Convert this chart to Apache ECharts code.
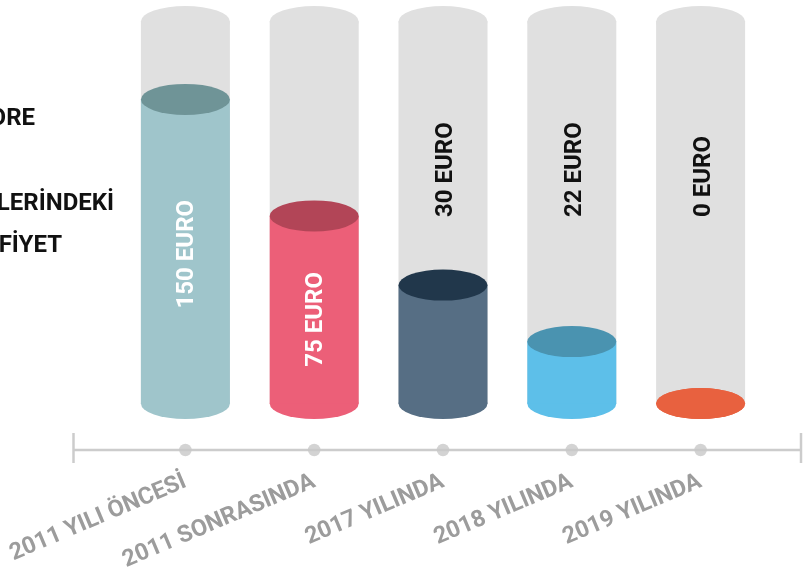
<!DOCTYPE html>
<html>
<head>
<meta charset="utf-8">
<script src="https://cdn.jsdelivr.net/npm/echarts@6/dist/echarts.min.js"></script>
<style>
  html, body { margin: 0; padding: 0; background: #ffffff; }
  #chart { width: 806px; height: 576px; }
</style>
</head>
<body>
<div id="chart"></div>
<script>
// ---- data ----
const categories = ['2011 YILI ÖNCESİ', '2011 SONRASINDA', '2017 YILINDA', '2018 YILINDA', '2019 YILINDA'];
const priceLabels = ['150 EURO', '75 EURO', '30 EURO', '22 EURO', '0 EURO'];
// fill level of each tube, in % of the tube height (as drawn in the infographic)
const fillLevel = [79.6, 49.1, 31.0, 16.2, 0];
const tubeLevel = [100, 100, 100, 100, 100];
const labelInBody = [true, true, false, false, false];
const bodyColors = ['#9fc5cb', '#ec5f78', '#566e84', '#5dbfe9', '#e8613f'];
const capColors = ['#6f9497', '#b24557', '#21374b', '#4a93b0', '#e8613f'];
const titleLines = ['ORE', 'LERİNDEKİ', 'FİYET'];

const FONT = 'Roboto, "Noto Sans", sans-serif';
const BW = 89, EH = 31;

const chart = echarts.init(document.getElementById('chart'), null, { renderer: 'canvas' });

// rotated labels: offset is in the label's rotated frame -> [along text (up), across text (right)]
const labelBase = {
  show: true, position: 'inside', rotate: 90, align: 'left', verticalAlign: 'middle',
  fontFamily: FONT, fontWeight: 'bold', fontSize: 24
};

const option = {
  animation: false,
  backgroundColor: '#ffffff',
  grid: [
    { left: 121, right: 41, top: 21.5, bottom: 172.5 },
    { left: 121, right: 41, top: 430, height: 20 }
  ],
  xAxis: [
    { type: 'category', gridIndex: 0, data: categories, show: false },
    {
      type: 'category', gridIndex: 1, data: categories,
      axisLine: { show: false }, axisTick: { show: false },
      axisLabel: {
        interval: 0, rotate: 23, margin: 31, color: '#9c9c9c',
        fontFamily: FONT, fontWeight: 'bold', fontSize: 23.5
      }
    }
  ],
  yAxis: [
    { type: 'value', gridIndex: 0, min: 0, max: 100, show: false },
    { type: 'value', gridIndex: 1, min: 0, max: 1, show: false }
  ],
  graphic: [
    { type: 'line', z: 0, shape: { x1: 73, y1: 450, x2: 801, y2: 450 }, style: { stroke: '#cccccc', lineWidth: 2.5 } },
    { type: 'line', z: 0, shape: { x1: 73.5, y1: 433, x2: 73.5, y2: 463 }, style: { stroke: '#cccccc', lineWidth: 2.5 } },
    { type: 'line', z: 0, shape: { x1: 801, y1: 433, x2: 801, y2: 463 }, style: { stroke: '#cccccc', lineWidth: 2.5 } },
    { type: 'text', style: { text: titleLines[0], x: 35, y: 118.5, align: 'right', verticalAlign: 'middle', fill: '#111111', font: 'bold 24px ' + FONT } },
    { type: 'text', style: { text: titleLines[1], x: 114, y: 204, align: 'right', verticalAlign: 'middle', fill: '#111111', font: 'bold 24px ' + FONT } },
    { type: 'text', style: { text: titleLines[2], x: 62, y: 246, align: 'right', verticalAlign: 'middle', fill: '#111111', font: 'bold 24px ' + FONT } }
  ],
  series: [
    // empty tube body
    {
      type: 'bar', xAxisIndex: 0, yAxisIndex: 0, barWidth: BW, barGap: '-100%', z: 1,
      itemStyle: { color: '#e0e0e0' },
      data: tubeLevel.map((v, i) => ({
        value: v,
        label: Object.assign({}, labelBase, { show: !labelInBody[i], color: '#111111', offset: [-4.5, 3], formatter: priceLabels[i] })
      }))
    },
    // empty tube top
    {
      type: 'pictorialBar', xAxisIndex: 0, yAxisIndex: 0, symbol: 'circle', symbolSize: [BW, EH],
      symbolPosition: 'end', symbolOffset: [0, '-50%'], z: 2,
      itemStyle: { color: '#e0e0e0' }, data: tubeLevel
    },
    // fill bottom
    {
      type: 'pictorialBar', xAxisIndex: 0, yAxisIndex: 0, symbol: 'circle', symbolSize: [BW, EH],
      symbolPosition: 'start', symbolOffset: [0, '50%'], z: 3,
      data: fillLevel.map((v, i) => ({ value: v, itemStyle: { color: bodyColors[i] } }))
    },
    // fill body
    {
      type: 'bar', xAxisIndex: 0, yAxisIndex: 0, barWidth: BW, barGap: '-100%', z: 3,
      data: fillLevel.map((v, i) => ({
        value: v,
        itemStyle: { color: bodyColors[i] },
        label: Object.assign({}, labelBase, { show: labelInBody[i], color: '#ffffff', offset: [-57, 2], formatter: priceLabels[i] })
      }))
    },
    // fill top
    {
      type: 'pictorialBar', xAxisIndex: 0, yAxisIndex: 0, symbol: 'circle', symbolSize: [BW, EH],
      symbolPosition: 'end', symbolOffset: [0, '-50%'], z: 4,
      data: fillLevel.map((v, i) => ({ value: v, itemStyle: { color: capColors[i] } }))
    },
    // axis dots
    {
      type: 'scatter', xAxisIndex: 1, yAxisIndex: 1, symbol: 'circle', symbolSize: 12.5, clip: false, z: 5,
      itemStyle: { color: '#c8c8c8' },
      data: categories.map(c => [c, 0])
    }
  ]
};

chart.setOption(option);
</script>
</body>
</html>
